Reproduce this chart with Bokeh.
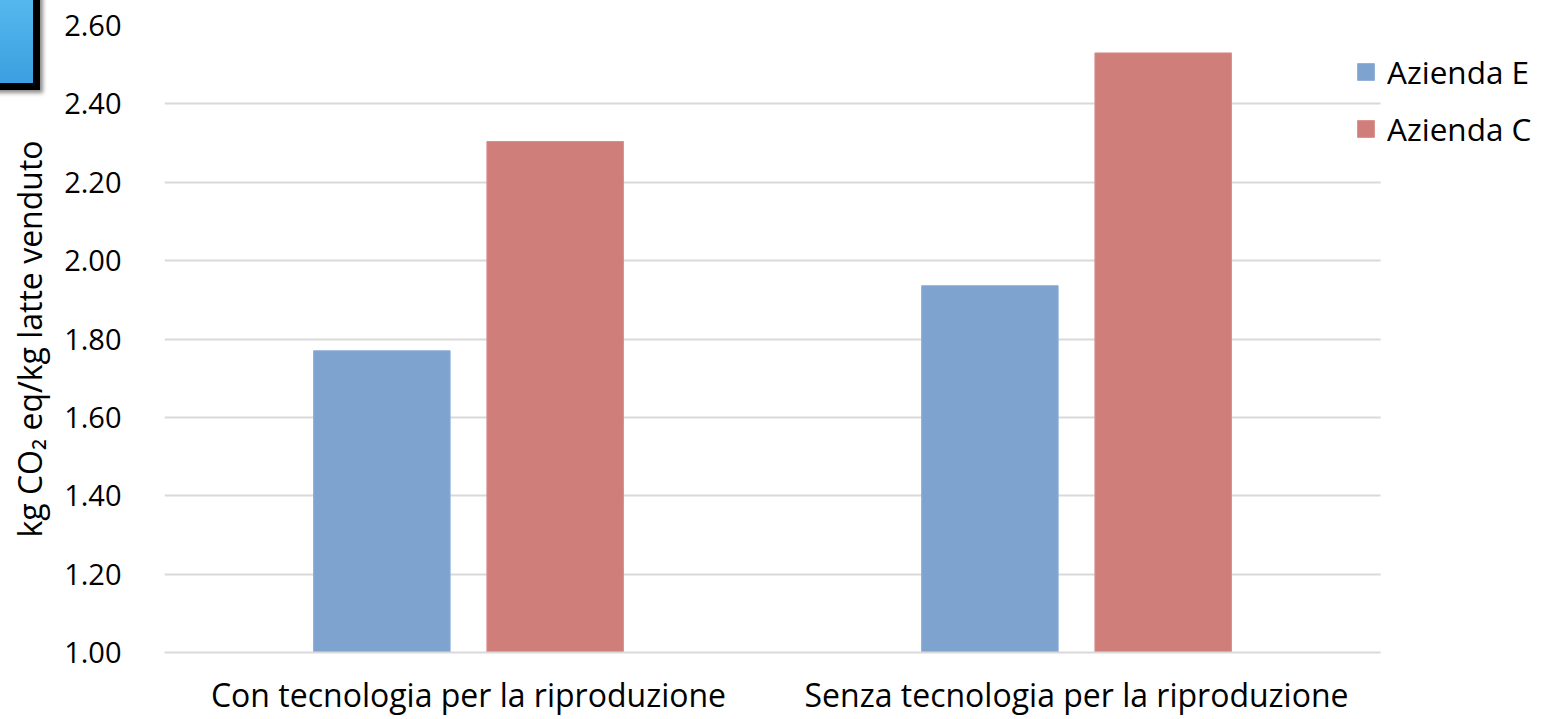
from bokeh.plotting import figure
from bokeh.models import (ColumnDataSource, Range1d, Legend, LegendItem,
                          BoxAnnotation, FixedTicker, NumeralTickFormatter, Div)
from bokeh.embed import file_html
from bokeh.resources import INLINE

# Data
categories = ["Con tecnologia per la riproduzione", "Senza tecnologia per la riproduzione"]
azienda_e = [1.77, 1.936]
azienda_c = [2.304, 2.530]
y_ticks = [1.0, 1.2, 1.4, 1.6, 1.8, 2.0, 2.2, 2.4, 2.6]
series_names = ["Azienda E", "Azienda C"]

FONT = "Open Sans"

# one unit per category; bars dodged around each category centre
centers = [i + 0.5 for i in range(len(categories))]
bar_w = 0.2245
off = 0.1425
source = ColumnDataSource(data=dict(
    cat=categories,
    xe=[c - off for c in centers], xc=[c + off for c in centers],
    e=azienda_e, c=azienda_c))

n = len(categories)
legend_room = 0.268  # extra room on the right for the legend
p = figure(x_range=Range1d(0, n + legend_room), y_range=Range1d(1.0, 2.6),
           width=1543, height=719, output_backend="svg", toolbar_location=None,
           min_border_left=164, min_border_right=0, min_border_top=25,
           min_border_bottom=67, outline_line_color=None)

r_e = p.vbar(x="xe", top="e", bottom=1.0, width=bar_w, source=source,
             fill_color="#7EA3CF", line_color="#8EAED6", line_width=1)
r_c = p.vbar(x="xc", top="c", bottom=1.0, width=bar_w, source=source,
             fill_color="#D07E7A", line_color="#D88E8A", line_width=1)

# Y axis
p.yaxis.ticker = FixedTicker(ticks=y_ticks)
p.yaxis.formatter = NumeralTickFormatter(format="0.00")
p.yaxis.axis_line_color = None
p.yaxis.major_tick_line_color = None
p.yaxis.minor_tick_line_color = None
p.yaxis.major_label_standoff = 37
p.yaxis.major_label_text_font = FONT
p.yaxis.major_label_text_font_size = "29px"
p.yaxis.major_label_text_color = "#000000"
p.yaxis.axis_label = "kg CO\u2082 eq/kg latte venduto"
p.yaxis.axis_label_text_font = FONT
p.yaxis.axis_label_text_font_size = "32px"
p.yaxis.axis_label_text_font_style = "normal"
p.yaxis.axis_label_text_color = "#000000"
p.yaxis.axis_label_standoff = 10

# X axis (category labels)
p.xaxis.ticker = FixedTicker(ticks=centers)
p.xaxis.major_label_overrides = {c: name for c, name in zip(centers, categories)}
p.xaxis.bounds = (0, n)
p.xaxis.axis_line_color = "#D9D9D9"
p.xaxis.axis_line_width = 2
p.xaxis.major_tick_line_color = None
p.xaxis.minor_tick_line_color = None
p.xaxis.major_label_standoff = 14
p.xaxis.major_label_text_font = FONT
p.xaxis.major_label_text_font_size = "32px"
p.xaxis.major_label_text_color = "#000000"

p.xgrid.grid_line_color = None
p.ygrid.grid_line_color = "#D9D9D9"
p.ygrid.grid_line_width = 2

# keep the grid lines to the category area only
p.add_layout(BoxAnnotation(left=n, fill_color="#FFFFFF", fill_alpha=1.0,
                           line_color=None, level="underlay"))

# Legend
legend = Legend(items=[LegendItem(label=series_names[0], renderers=[r_e]),
                       LegendItem(label=series_names[1], renderers=[r_c])],
                location=(1191, 502), orientation="vertical",
                glyph_width=21, glyph_height=21, label_height=42, spacing=14,
                label_standoff=11, padding=0, margin=0,
                border_line_color=None, background_fill_alpha=0,
                label_text_font=FONT, label_text_font_size="31.5px",
                label_text_color="#000000")
p.add_layout(legend)

# Corner badge (plain HTML element attached to the plot)
badge = Div(text="", styles={
    "position": "absolute", "left": "-10px", "top": "-10px",
    "box-sizing": "border-box",
    "width": "50px", "height": "100px",
    "background": "linear-gradient(#56B9EE, #3B9FE0)",
    "border": "7px solid #000000",
    "box-shadow": "3px 3px 4px rgba(0,0,0,0.45)",
    "z-index": "10",
})
p.elements = [badge]

open("out.html", "w").write(file_html(p, INLINE))
